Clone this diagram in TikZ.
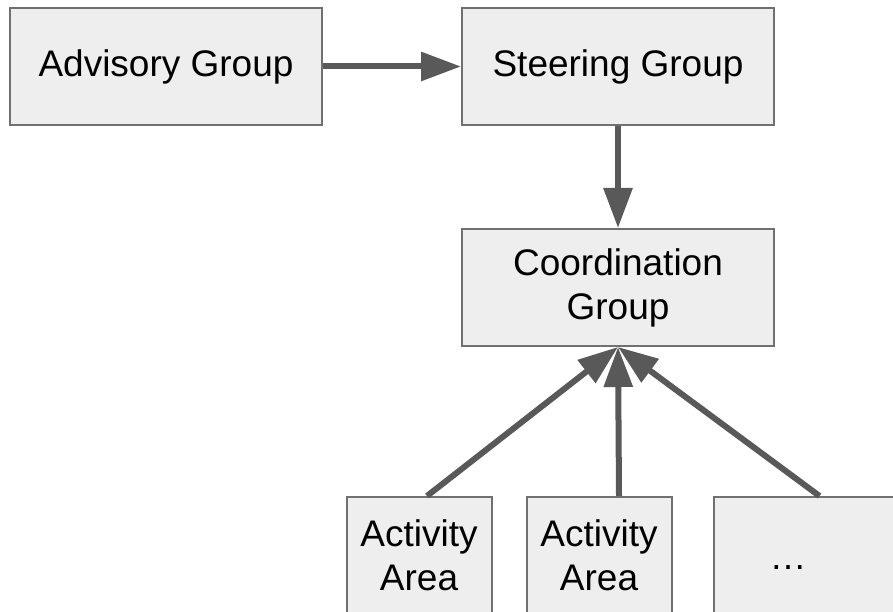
\documentclass[tikz,border=0pt]{standalone}
\usepackage{fontspec}
\setmainfont{Liberation Sans}
\usepackage{tikz}
\usetikzlibrary{positioning,arrows.meta}
\definecolor{boxfill}{HTML}{EEEEEE}
\definecolor{boxline}{HTML}{707070}
\definecolor{arrowgray}{HTML}{595959}

\begin{document}
\begin{tikzpicture}[
                x=1pt, y=1pt,
                node distance=40pt,
                box/.style={draw=boxline, fill=boxfill, line width=2pt, minimum width=312pt, minimum height=117pt, align=center, font=\fontsize{37}{44}\selectfont},
                areabox/.style={box, minimum width=145pt},
                link/.style={draw=arrowgray, line width=6pt, -{Triangle[length=40pt,width=28pt]}}
            ]
                \useasboundingbox (0,0) rectangle (893,612);

                % Top: advisory and steering
                \node[box] (advisory) at (166,545.5) {Advisory Group};
                \node[box, right=138pt of advisory] (steering) {Steering Group};

                % Coordination
                \node[box, below=102pt of steering] (coordination) {Coordination\\Group};

                % Activity areas
                \node[areabox, below=149pt of coordination, xshift=-199pt] (area1) {Activity\\Area};
                \node[areabox, right=33pt of area1] (area2) {Activity\\Area};
                \node[box, right=40pt of area2, minimum width=0pt, text width=90pt, inner xsep=56pt, text height=28pt, text depth=0pt, align=left] (more) {…};

                \draw[link] (advisory) -- (steering);
                \draw[link] (steering) -- (coordination);
                \draw[link] ([xshift=8pt]area1.north) -- (coordination.south);
                \draw[link] ([xshift=20pt]area2.north) -- (coordination.south);
                \draw[link] ([xshift=5pt]more.north) -- (coordination.south);
            \end{tikzpicture}
\end{document}
